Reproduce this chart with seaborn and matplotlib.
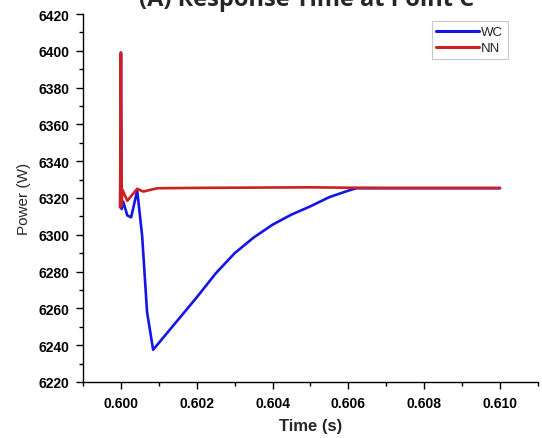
import numpy as np
import pandas as pd
import matplotlib
matplotlib.use("Agg")
import matplotlib.pyplot as plt
from matplotlib.ticker import MultipleLocator, FormatStrFormatter
import seaborn as sns

# Time axis (s) and power (W) for the two controllers
t_wc = [0.59998, 0.60000, 0.60002, 0.60006, 0.60017, 0.60027, 0.60043, 0.60056,
        0.60069, 0.60085, 0.6020, 0.6025, 0.6030, 0.6035, 0.6040, 0.6045, 0.6050,
        0.6055, 0.6060, 0.6062, 0.6070, 0.6080, 0.6090, 0.6100]
p_wc = [6315.0, 6399.0, 6314.0, 6318.0, 6310.5, 6309.5, 6324.0, 6299.5,
        6258.0, 6237.5, 6266.0, 6279.0, 6290.0, 6298.5, 6305.5, 6311.0, 6315.5,
        6320.5, 6324.0, 6325.3, 6325.3, 6325.3, 6325.3, 6325.3]

t_nn = [0.59998, 0.60000, 0.60002, 0.60004, 0.60017, 0.60043, 0.60059, 0.60096,
        0.6015, 0.6020, 0.6030, 0.6040, 0.6050, 0.6060, 0.6070, 0.6080, 0.6090, 0.6100]
p_nn = [6315.0, 6399.0, 6316.0, 6324.5, 6318.5, 6325.0, 6323.5, 6325.3,
        6325.4, 6325.5, 6325.6, 6325.7, 6325.8, 6325.6, 6325.5, 6325.5, 6325.5, 6325.5]

series_names = ["WC", "NN"]
series_colors = ["#1515e6", "#d01f1f"]

df = pd.concat([
    pd.DataFrame({"Time (s)": t_wc, "Power (W)": p_wc, "Method": "WC"}),
    pd.DataFrame({"Time (s)": t_nn, "Power (W)": p_nn, "Method": "NN"}),
], ignore_index=True)

sns.set_style("ticks")
plt.rcParams["font.family"] = ["Liberation Sans", "DejaVu Sans"]

fig = plt.figure(figsize=(5.42, 4.39), dpi=100)
ax = fig.add_axes([0.1531, 0.1276, 0.8395, 0.8382])

sns.lineplot(data=df, x="Time (s)", y="Power (W)", hue="Method",
             hue_order=series_names, palette=series_colors,
             linewidth=1.9, sort=False, estimator=None, ax=ax)

ax.set_xlim(0.599, 0.611)
ax.set_ylim(6220, 6420)
ax.xaxis.set_major_locator(MultipleLocator(0.002))
ax.xaxis.set_minor_locator(MultipleLocator(0.001))
ax.xaxis.set_major_formatter(FormatStrFormatter("%.3f"))
ax.yaxis.set_major_locator(MultipleLocator(20))
ax.yaxis.set_minor_locator(MultipleLocator(10))

ax.tick_params(which="major", direction="out", length=5, width=1, colors="black", pad=5)
ax.tick_params(which="minor", direction="out", length=3, width=1, colors="black")
for lbl in ax.get_xticklabels() + ax.get_yticklabels():
    lbl.set_fontweight("bold")
    lbl.set_fontsize(10)

sns.despine(ax=ax)
for s in ("left", "bottom"):
    ax.spines[s].set_color("black")
    ax.spines[s].set_linewidth(1)

ax.set_xlabel("Time (s)", fontsize=12, fontweight="bold", labelpad=6)
ax.set_ylabel("Power (W)", fontsize=11, labelpad=5)

leg = ax.legend(loc="upper right", bbox_to_anchor=(0.934, 0.98), frameon=True,
                fancybox=False, fontsize=9.5, handlelength=3.2, handletextpad=0.2,
                borderpad=0.35, labelspacing=0.3, borderaxespad=0.0)
leg.get_frame().set_edgecolor("#bbbbbb")
leg.get_frame().set_linewidth(0.8)
for h in leg.get_lines():
    h.set_linewidth(2.2)

fig.text(0.565, 0.986, "(A) Response Time at Point C", ha="center", va="baseline",
         fontsize=17, fontweight="bold", family=["Open Sans", "DejaVu Sans"])

fig.savefig("out.png", dpi=100)
